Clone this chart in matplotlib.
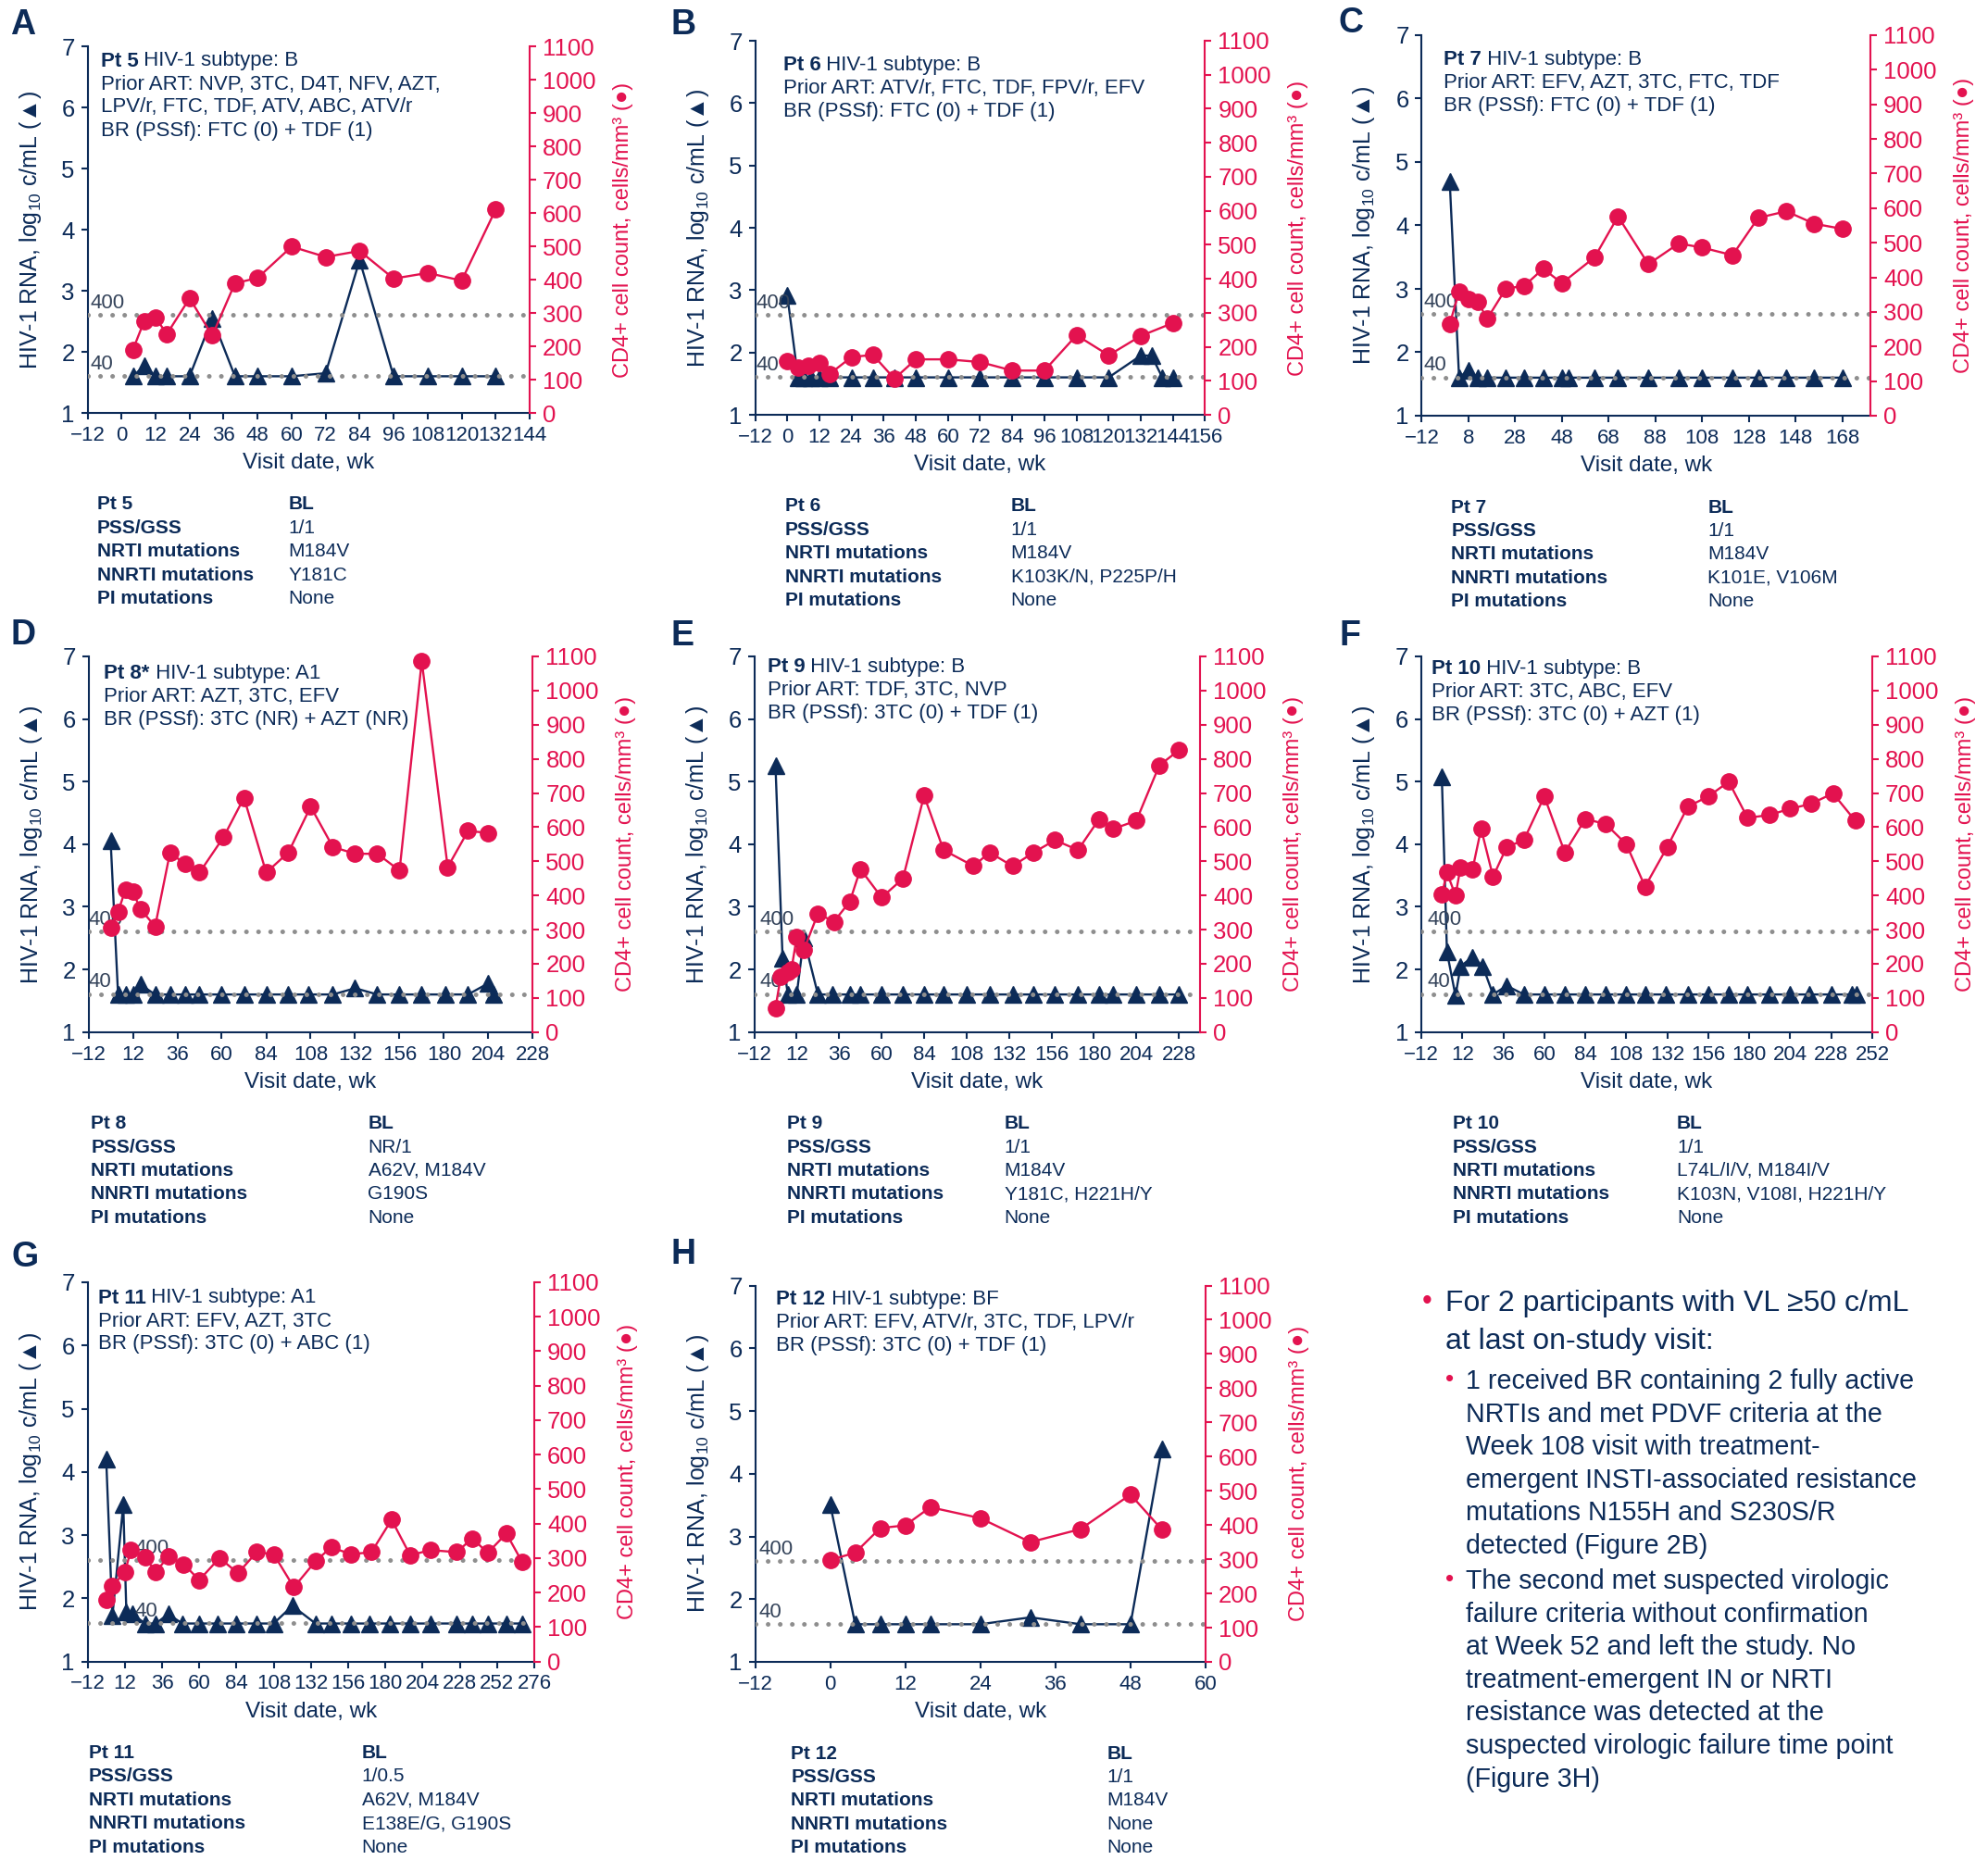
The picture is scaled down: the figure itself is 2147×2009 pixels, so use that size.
import numpy as np
import matplotlib
matplotlib.use('Agg')
import matplotlib.pyplot as plt

plt.rcParams['font.family'] = ['Liberation Sans', 'DejaVu Sans']
plt.rcParams['mathtext.fontset'] = 'custom'
plt.rcParams['mathtext.rm'] = 'Liberation Sans'
plt.rcParams['mathtext.it'] = 'Liberation Sans:italic'
plt.rcParams['mathtext.bf'] = 'Liberation Sans:bold'

NAVY = '#0c2b58'
PINK = '#e3124f'
GREY = '#8e8e8e'
LABGREY = '#34435a'

W, H = 2147, 2009

# ---- data (weeks, log10 VL, CD4 cells/mm3) ----
pt5_vl_wk = [4, 8, 12, 16, 24, 32, 40, 48, 60, 72, 84, 96, 108, 120, 132]
pt5_vl = [1.6, 1.77, 1.6, 1.6, 1.6, 2.55, 1.6, 1.6, 1.6, 1.65, 3.5, 1.6, 1.6, 1.6, 1.6]
pt5_cd4_wk = [4, 8, 12, 16, 24, 32, 40, 48, 60, 72, 84, 96, 108, 120, 132]
pt5_cd4 = [190, 276, 285, 237, 344, 232, 389, 405, 499, 468, 486, 403, 420, 397, 610]

pt6_vl_wk = [0, 4, 6, 9, 12, 16, 24, 32, 40, 48, 60, 72, 84, 96, 108, 120, 132, 136, 140, 144]
pt6_vl = [2.92, 1.6, 1.6, 1.6, 1.6, 1.6, 1.6, 1.6, 1.6, 1.6, 1.6, 1.6, 1.6, 1.6, 1.6, 1.6,
          1.95, 1.95, 1.6, 1.6]
pt6_cd4_wk = [0, 4, 8, 12, 16, 24, 32, 40, 48, 60, 72, 84, 96, 108, 120, 132, 144]
pt6_cd4 = [159, 138, 144, 153, 121, 170, 176, 106, 163, 163, 155, 130, 130, 234, 175, 232, 270]

pt7_vl_wk = [0, 4, 8, 12, 16, 24, 32, 40, 48, 51, 62, 72, 85, 98, 108, 121, 132, 144, 156, 168]
pt7_vl = [4.69, 1.6, 1.72, 1.6, 1.6, 1.6, 1.6, 1.6, 1.6, 1.6, 1.6, 1.6, 1.6, 1.6, 1.6, 1.6,
          1.6, 1.6, 1.6, 1.6]
pt7_cd4_wk = [0, 4, 8, 12, 16, 24, 32, 40, 48, 62, 72, 85, 98, 108, 121, 132, 144, 156, 168]
pt7_cd4 = [265, 359, 336, 330, 280, 367, 376, 425, 383, 458, 576, 438, 498, 486, 464, 572, 591, 555, 540]

pt8_vl_wk = [0, 4, 8, 12, 16, 24, 32, 40, 48, 60, 72, 84, 96, 107, 120, 132, 144, 156, 168,
             181, 193, 204, 207]
pt8_vl = [4.05, 1.6, 1.6, 1.6, 1.76, 1.6, 1.6, 1.6, 1.6, 1.6, 1.6, 1.6, 1.6, 1.6, 1.6, 1.7,
          1.6, 1.6, 1.6, 1.6, 1.6, 1.78, 1.6]
pt8_cd4_wk = [0, 4, 8, 12, 16, 24, 32, 40, 48, 61, 72, 84, 96, 108, 120, 132, 144, 156, 168,
              182, 193, 204]
pt8_cd4 = [305, 352, 417, 411, 361, 309, 524, 494, 467, 571, 686, 467, 526, 660, 542, 522, 522,
           473, 1086, 483, 589, 583]

pt9_vl_wk = [0, 4, 7, 12, 16, 24, 32, 42, 48, 60, 72, 84, 95, 108, 121, 134, 146, 158, 171,
             183, 191, 204, 217, 228]
pt9_vl = [5.25, 2.18, 1.6, 1.6, 2.5, 1.6, 1.6, 1.6, 1.6, 1.6, 1.6, 1.6, 1.6, 1.6, 1.6, 1.6,
          1.6, 1.6, 1.6, 1.6, 1.6, 1.6, 1.6, 1.6]
pt9_cd4_wk = [0, 3, 7, 9, 12, 16, 24, 33, 42, 48, 60, 72, 84, 95, 112, 121, 134, 146, 158, 171,
              183, 191, 204, 217, 228]
pt9_cd4 = [71, 163, 175, 183, 278, 240, 347, 323, 382, 477, 394, 449, 692, 533, 486, 526, 486,
           526, 562, 533, 624, 595, 619, 781, 825]

pt10_vl_wk = [0, 3, 8, 11, 18, 24, 30, 38, 48, 60, 72, 84, 96, 108, 119, 131, 144, 156, 168,
              179, 192, 204, 215, 228, 240, 243]
pt10_vl = [5.08, 2.28, 1.58, 2.05, 2.2, 2.05, 1.6, 1.74, 1.6, 1.6, 1.6, 1.6, 1.6, 1.6, 1.6, 1.6,
           1.6, 1.6, 1.6, 1.6, 1.6, 1.6, 1.6, 1.6, 1.6, 1.6]
pt10_cd4_wk = [0, 3, 8, 11, 18, 23, 30, 38, 48, 60, 72, 84, 96, 108, 119, 132, 144, 156, 168,
               179, 192, 204, 216, 229, 242]
pt10_cd4 = [402, 467, 400, 483, 477, 595, 455, 542, 562, 690, 526, 624, 609, 550, 426, 542, 660,
            690, 733, 627, 636, 654, 668, 699, 619]

pt11_vl_wk = [0, 4, 11, 13, 17, 25, 32, 40, 49, 60, 72, 84, 97, 108, 120, 135, 145, 158, 170,
              183, 196, 209, 226, 236, 246, 258, 268]
pt11_vl = [4.2, 1.72, 3.48, 1.78, 1.75, 1.6, 1.6, 1.75, 1.6, 1.6, 1.6, 1.6, 1.6, 1.6, 1.88, 1.6,
           1.6, 1.6, 1.6, 1.6, 1.6, 1.6, 1.6, 1.6, 1.6, 1.6, 1.6]
pt11_cd4_wk = [0, 4, 12, 16, 25, 32, 40, 50, 60, 73, 85, 97, 108, 121, 135, 145, 158, 171, 184,
               196, 209, 226, 236, 246, 258, 268]
pt11_cd4 = [179, 219, 259, 323, 303, 259, 305, 282, 236, 300, 256, 317, 311, 215, 291, 331, 311,
            317, 411, 308, 323, 317, 357, 315, 371, 290]

pt12_vl_wk = [0, 4, 8, 12, 16, 24, 32, 40, 48, 53]
pt12_vl = [3.51, 1.6, 1.6, 1.6, 1.6, 1.6, 1.71, 1.6, 1.6, 4.4]
pt12_cd4_wk = [0, 4, 8, 12, 16, 24, 32, 40, 48, 53]
pt12_cd4 = [298, 319, 391, 399, 452, 420, 350, 388, 489, 387]

table_labels = ['PSS/GSS', 'NRTI mutations', 'NNRTI mutations', 'PI mutations']

fig = plt.figure(figsize=(W / 100, H / 100), dpi=100)


def panel(box, letter, letter_xy, vl_wk, vl, cd4_wk, cd4, xmax, xtick_end, xstep,
          pt_name, info_first, info_rest, info_dx, info_dy, bl, col_dx, lim_dx):
    left, right, top, bottom = box
    width = right - left
    ax = fig.add_axes([left / W, 1 - bottom / H, width / W, (bottom - top) / H])
    ax.set_xlim(-12, xmax)
    ax.set_ylim(1, 7)
    ax.set_xticks(np.arange(-12, xtick_end + 1, xstep))
    ax.set_yticks(range(1, 8))
    for s in ['top', 'right']:
        ax.spines[s].set_visible(False)
    ax.spines['left'].set_color(NAVY)
    ax.spines['bottom'].set_color(NAVY)
    ax.spines['left'].set_linewidth(1.5)
    ax.spines['bottom'].set_linewidth(1.5)
    ax.tick_params(axis='both', direction='out', length=5, width=1.5, color=NAVY,
                   labelcolor=NAVY)
    ax.tick_params(axis='x', labelsize=16, pad=5)
    ax.tick_params(axis='y', labelsize=18.5, pad=5)

    ax.plot(vl_wk, vl, color=NAVY, lw=1.7, marker='^', ms=13.5, zorder=3, clip_on=False)
    for thr in [400, 40]:
        yv = np.log10(thr)
        ax.axhline(yv, color=GREY, lw=3.6, ls=(0, (0.01, 2.6)), dash_capstyle='round', zorder=4)
        ax.annotate(str(thr), xy=(0, yv), xycoords=('axes fraction', 'data'),
                    xytext=(lim_dx, 13), textcoords='offset pixels', fontsize=16,
                    color=LABGREY, ha='left', va='center', zorder=5)

    ax.set_xlabel('Visit date, wk', fontsize=17.5, color=NAVY, labelpad=6)
    ax.set_ylabel('HIV-1 RNA, log$_{10}$ c/mL (▲)', fontsize=18, color=NAVY)
    ax.yaxis.set_label_coords(-48 / width, 0.5)

    ax2 = ax.twinx()
    ax2.set_ylim(0, 1100)
    ax2.set_yticks(range(0, 1101, 100))
    for s in ['top', 'left', 'bottom']:
        ax2.spines[s].set_visible(False)
    ax2.spines['right'].set_color(PINK)
    ax2.spines['right'].set_linewidth(1.5)
    ax2.tick_params(axis='y', direction='out', length=5, width=1.5, color=PINK,
                    labelcolor=PINK, labelsize=18.5, pad=5)
    ax2.plot(cd4_wk, cd4, color=PINK, lw=1.7, marker='o', ms=12.5, zorder=3, clip_on=False)
    ax2.set_ylabel('CD4+ cell count, cells/mm³ (●)', fontsize=17, color=PINK)
    ax2.yaxis.set_label_coords(1 + 90 / width, 0.5)

    # info text inside the plot
    t1 = ax2.annotate(pt_name, xy=(0, 1), xycoords='axes fraction',
                      xytext=(info_dx, -info_dy), textcoords='offset pixels',
                      fontsize=16, fontweight='bold', color=NAVY, ha='left', va='center')
    ax2.annotate(' ' + info_first, xy=(1, 0), xycoords=t1, fontsize=16, color=NAVY,
                 ha='left', va='bottom')
    for i, line in enumerate(info_rest):
        ax2.annotate(line, xy=(0, 1), xycoords='axes fraction',
                     xytext=(info_dx, -info_dy - 25 * (i + 1)), textcoords='offset pixels',
                     fontsize=16, color=NAVY, ha='left', va='center')

    # panel letter
    fig.text(letter_xy[0] / W, 1 - letter_xy[1] / H, letter, fontsize=27, fontweight='bold',
             color=NAVY, ha='center', va='center')

    # baseline table
    x1 = (left + col_dx[0]) / W
    x2 = (left + col_dx[1]) / W
    y0 = bottom + 99
    fig.text(x1, 1 - y0 / H, pt_name.rstrip('*'), fontsize=15, fontweight='bold', color=NAVY,
             va='center')
    fig.text(x2, 1 - y0 / H, 'BL', fontsize=15, fontweight='bold', color=NAVY, va='center')
    for i, (lab, val) in enumerate(zip(table_labels, bl)):
        yy = 1 - (y0 + 25.4 * (i + 1)) / H
        fig.text(x1, yy, lab, fontsize=15, fontweight='bold', color=NAVY, va='center')
        fig.text(x2, yy, val, fontsize=15, color=NAVY, va='center')
    return ax


panel((94.6, 572, 50, 446), 'A', (25, 27), pt5_vl_wk, pt5_vl, pt5_cd4_wk, pt5_cd4,
      144, 144, 12, 'Pt 5', 'HIV-1 subtype: B',
      ['Prior ART: NVP, 3TC, D4T, NFV, AZT,', 'LPV/r, FTC, TDF, ATV, ABC, ATV/r',
       'BR (PSSf): FTC (0) + TDF (1)'], 14, 16,
      ['1/1', 'M184V', 'Y181C', 'None'], (10, 217), 3)

panel((815.5, 1301.5, 44, 448), 'B', (738, 27), pt6_vl_wk, pt6_vl, pt6_cd4_wk, pt6_cd4,
      156, 156, 12, 'Pt 6', 'HIV-1 subtype: B',
      ['Prior ART: ATV/r, FTC, TDF, FPV/r, EFV', 'BR (PSSf): FTC (0) + TDF (1)'], 30, 27,
      ['1/1', 'M184V', 'K103K/N, P225P/H', 'None'], (32, 276), 1)

panel((1535.4, 2020, 38, 449), 'C', (1459, 25), pt7_vl_wk, pt7_vl, pt7_cd4_wk, pt7_cd4,
      180, 168, 20, 'Pt 7', 'HIV-1 subtype: B',
      ['Prior ART: EFV, AZT, 3TC, FTC, TDF', 'BR (PSSf): FTC (0) + TDF (1)'], 24, 27,
      ['1/1', 'M184V', 'K101E, V106M', 'None'], (32, 309), 2)

panel((95.5, 575.5, 709, 1114.7), 'D', (25, 686), pt8_vl_wk, pt8_vl, pt8_cd4_wk, pt8_cd4,
      228, 228, 24, 'Pt 8*', 'HIV-1 subtype: A1',
      ['Prior ART: AZT, 3TC, EFV', 'BR (PSSf): 3TC (NR) + AZT (NR)'], 17, 19,
      ['NR/1', 'A62V, M184V', 'G190S', 'None'], (3, 302), 0)

panel((814.6, 1296, 709, 1114.7), 'E', (737, 687), pt9_vl_wk, pt9_vl, pt9_cd4_wk, pt9_cd4,
      240, 228, 24, 'Pt 9', 'HIV-1 subtype: B',
      ['Prior ART: TDF, 3TC, NVP', 'BR (PSSf): 3TC (0) + TDF (1)'], 14, 12,
      ['1/1', 'M184V', 'Y181C, H221H/Y', 'None'], (35, 270), 6)

panel((1535, 2022, 709, 1114.7), 'F', (1458, 687), pt10_vl_wk, pt10_vl, pt10_cd4_wk,
      pt10_cd4, 252, 252, 24, 'Pt 10', 'HIV-1 subtype: B',
      ['Prior ART: 3TC, ABC, EFV', 'BR (PSSf): 3TC (0) + AZT (1)'], 11, 14,
      ['1/1', 'L74L/I/V, M184I/V', 'K103N, V108I, H221H/Y', 'None'], (34, 276), 6)

panel((94.6, 577, 1385, 1794.5), 'G', (27, 1358), pt11_vl_wk, pt11_vl, pt11_cd4_wk,
      pt11_cd4, 276, 276, 24, 'Pt 11', 'HIV-1 subtype: A1',
      ['Prior ART: EFV, AZT, 3TC', 'BR (PSSf): 3TC (0) + ABC (1)'], 11, 17,
      ['1/0.5', 'A62V, M184V', 'E138E/G, G190S', 'None'], (1, 296), 51)

panel((815.5, 1302, 1388.5, 1795), 'H', (738, 1355), pt12_vl_wk, pt12_vl, pt12_cd4_wk,
      pt12_cd4, 60, 60, 12, 'Pt 12', 'HIV-1 subtype: BF',
      ['Prior ART: EFV, ATV/r, 3TC, TDF, LPV/r', 'BR (PSSf): 3TC (0) + TDF (1)'], 23, 15,
      ['1/1', 'M184V', 'None', 'None'], (39, 380), 4)

# ---- summary text on the right ----
main_lines = ['For 2 participants with VL ≥50 c/mL', 'at last on-study visit:']
sub1_lines = ['1 received BR containing 2 fully active', 'NRTIs and met PDVF criteria at the',
              'Week 108 visit with treatment-', 'emergent INSTI-associated resistance',
              'mutations N155H and S230S/R', 'detected (Figure 2B)']
sub2_lines = ['The second met suspected virologic', 'failure criteria without confirmation',
              'at Week 52 and left the study. No', 'treatment-emergent IN or NRTI',
              'resistance was detected at the', 'suspected virologic failure time point',
              '(Figure 3H)']

fig.text(1541 / W, 1 - 1406 / H, '•', fontsize=22, color=PINK, ha='center', va='center')
for i, line in enumerate(main_lines):
    fig.text(1561 / W, 1 - (1408 + 40.5 * i) / H, line, fontsize=23, color=NAVY, va='center')
for start, lines in [(1492, sub1_lines), (1708, sub2_lines)]:
    fig.text(1566 / W, 1 - (start - 2) / H, '•', fontsize=19, color=PINK, ha='center',
             va='center')
    for i, line in enumerate(lines):
        fig.text(1583 / W, 1 - (start + 35.6 * i) / H, line, fontsize=20.6, color=NAVY,
                 va='center')

fig.savefig('out.png', dpi=100)
